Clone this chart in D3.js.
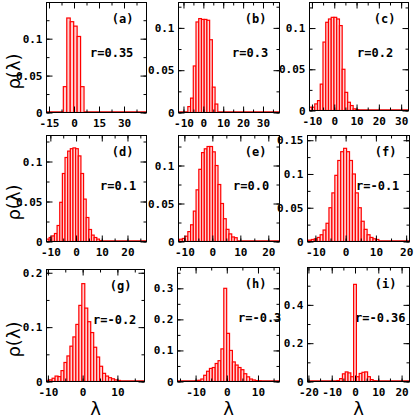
<!DOCTYPE html>
<meta charset="utf-8">
<style>
    body { margin: 0; background: #fff; }
    svg text { font-family: 'DejaVu Sans Mono', monospace; font-weight: bold; fill: #000; }
    .axis .domain { display: none; }
    .axis line { stroke: #000; }
    .title { font-family: 'DejaVu Sans', sans-serif !important; font-weight: normal !important; }
</style>
<svg width="415" height="420"></svg>
<script src="https://d3js.org/d3.v7.min.js"></script>
<script>
    // panel names and correlation labels
    var panelNames = ["(a)", "(b)", "(c)", "(d)", "(e)", "(f)", "(g)", "(h)", "(i)"];
    var rLabels = ["r=0.35", "r=0.3", "r=0.2", "r=0.1", "r=0.0", "r=-0.1", "r=-0.2", "r=-0.3", "r=-0.36"];

    // histogram bins: first bin edge, bin width, heights rho(lambda)
    var binStart = [-6.4, -7.8, -11.2, -11.5, -11.7, -12.3, -10.5, -10.16, -7.8];
    var binWidth = [2.07, 1.37, 1.23, 1.03, 0.98, 0.97, 0.855, 0.92, 1.2];
    var rhoA = [0.035, 0.128, 0.123, 0.117, 0.103, 0.035];
    var rhoB = [0.007, 0.017, 0.055, 0.107, 0.111, 0.110, 0.110, 0.109, 0.086, 0.030, 0.010];
    var rhoC = [0.004, 0.004, 0.008, 0.012, 0.032, 0.083, 0.107, 0.111, 0.113, 0.113, 0.111, 0.103, 0.050, 0.022, 0.010, 0.006, 0.002, 0.001];
    var rhoD = [0.003, 0.005, 0.007, 0.010, 0.020, 0.049, 0.085, 0.105, 0.113, 0.116, 0.117, 0.116, 0.107, 0.085, 0.053, 0.030, 0.015, 0.008, 0.005, 0.003, 0.001];
    var rhoE = [0.003, 0.004, 0.007, 0.013, 0.022, 0.040, 0.068, 0.095, 0.117, 0.122, 0.125, 0.125, 0.118, 0.100, 0.075, 0.050, 0.030, 0.016, 0.010, 0.006, 0.005];
    var rhoF = [0.002, 0.003, 0.004, 0.006, 0.010, 0.017, 0.027, 0.050, 0.072, 0.098, 0.120, 0.133, 0.138, 0.133, 0.120, 0.100, 0.072, 0.050, 0.030, 0.018, 0.010, 0.006, 0.004, 0.003];
    var rhoG = [0.002, 0.003, 0.006, 0.010, 0.009, 0.020, 0.035, 0.047, 0.065, 0.082, 0.105, 0.140, 0.180, 0.135, 0.110, 0.090, 0.063, 0.045, 0.028, 0.015, 0.010, 0.007, 0.005, 0.003, 0.002];
    var rhoH = [0.002, 0.004, 0.008, 0.020, 0.033, 0.042, 0.045, 0.058, 0.067, 0.105, 0.300, 0.155, 0.100, 0.063, 0.053, 0.045, 0.038, 0.025, 0.015, 0.008, 0.005, 0.003, 0.002];
    var rhoI = [0.005, 0.015, 0.040, 0.050, 0.045, 0.025, 0.507, 0.025, 0.042, 0.048, 0.050, 0.025, 0.010, 0.003];
    var rhoAll = [rhoA, rhoB, rhoC, rhoD, rhoE, rhoF, rhoG, rhoH, rhoI];

    // axis ranges and tick steps
    var xDomains = [[-16.5, 43.5], [-12.5, 38.3], [-11.1, 33.3], [-11.5, 27.4], [-12.1, 24], [-12.6, 21.1], [-10.4, 17.8], [-15.8, 16.9], [-20.4, 23.4]];
    var yMax = [0.149, 0.130, 0.131, 0.1325, 0.1395, 0.157, 0.206, 0.367, 0.595];
    var xTickStep = [15, 10, 10, 10, 10, 10, 10, 10, 10];
    var yTickStep = [0.05, 0.05, 0.05, 0.05, 0.05, 0.05, 0.1, 0.1, 0.2];

    // frame of each panel: left, right, top, bottom
    var frames = [
        [46.5, 146.5, 2.5, 112.5], [178.5, 279.5, 2.5, 112.5], [309.5, 408.5, 2.5, 110.5],
        [46.5, 146.5, 135.5, 241.5], [178.5, 279.5, 135.5, 241.5], [307.5, 409.5, 135.5, 241.5],
        [46.5, 144.5, 269.5, 381.5], [177.5, 279.5, 267.5, 381.5], [307.5, 409.5, 267.5, 381.5]
    ];
    // left edge of the r label
    var rLabelX = [90, 232, 357, 100, 233, 356, 93, 238, 355];

    var svg = d3.select("svg");

    function stepTicks(dom, step) {
        var t = [], v = Math.ceil(dom[0] / step - 1e-9) * step;
        for (; v <= dom[1] + 1e-9; v += step) t.push(+v.toFixed(4));
        return t;
    }
    var fmt = function(d) { return String(+d.toFixed(3)); };

    frames.forEach(function(f, p) {
        var x = d3.scaleLinear().domain(xDomains[p]).range([f[0], f[1]]);
        var y = d3.scaleLinear().domain([0, yMax[p]]).range([f[3], f[2]]);
        var g = svg.append("g");

        g.append("clipPath").attr("id", "clip" + p)
            .append("rect")
            .attr("x", f[0]).attr("y", f[2])
            .attr("width", f[1] - f[0]).attr("height", f[3] - f[2]);

        var bins = rhoAll[p].map(function(h, i) {
            return {x0: binStart[p] + i * binWidth[p], x1: binStart[p] + (i + 1) * binWidth[p], h: h};
        });

        var bars = g.append("g").attr("clip-path", "url(#clip" + p + ")");

        // red baseline of the empty bins
        bars.append("line")
            .attr("x1", x(xDomains[p][0])).attr("x2", x(xDomains[p][1]))
            .attr("y1", y(0) - 0.5).attr("y2", y(0) - 0.5)
            .attr("stroke", "#e00000").attr("stroke-width", 1.5);

        bars.selectAll("rect")
            .data(bins)
            .enter().append("rect")
            .attr("x", function(d) { return x(d.x0); })
            .attr("y", function(d) { return y(d.h); })
            .attr("width", function(d) { return x(d.x1) - x(d.x0); })
            .attr("height", function(d) { return y(0) - y(d.h); })
            .attr("fill", "#ffd2d2")
            .attr("stroke", "#ff0000")
            .attr("stroke-width", 1.2);

        var xMajor = stepTicks(xDomains[p], xTickStep[p]);
        var xMinor = stepTicks(xDomains[p], xTickStep[p] / 2);
        var yMajor = stepTicks([0, yMax[p]], yTickStep[p]);
        var yMinor = stepTicks([0, yMax[p]], yTickStep[p] / 2);

        // bottom axis with labels
        g.append("g").attr("class", "axis")
            .attr("transform", "translate(0," + f[3] + ")")
            .call(d3.axisBottom(x).tickValues(xMajor).tickSize(-6).tickSizeOuter(0).tickPadding(7).tickFormat(fmt))
            .selectAll("text").attr("font-size", 11).attr("font-family", null);
        g.append("g").attr("class", "axis")
            .attr("transform", "translate(0," + f[3] + ")")
            .call(d3.axisBottom(x).tickValues(xMinor).tickSize(-3).tickSizeOuter(0).tickFormat(""));
        // top mirror
        g.append("g").attr("class", "axis")
            .attr("transform", "translate(0," + f[2] + ")")
            .call(d3.axisTop(x).tickValues(xMajor).tickSize(-6).tickSizeOuter(0).tickFormat(""));
        g.append("g").attr("class", "axis")
            .attr("transform", "translate(0," + f[2] + ")")
            .call(d3.axisTop(x).tickValues(xMinor).tickSize(-3).tickSizeOuter(0).tickFormat(""));
        // left axis with labels
        g.append("g").attr("class", "axis")
            .attr("transform", "translate(" + f[0] + ",0)")
            .call(d3.axisLeft(y).tickValues(yMajor).tickSize(-6).tickSizeOuter(0).tickPadding(4).tickFormat(fmt))
            .selectAll("text").attr("font-size", 11).attr("font-family", null);
        g.append("g").attr("class", "axis")
            .attr("transform", "translate(" + f[0] + ",0)")
            .call(d3.axisLeft(y).tickValues(yMinor).tickSize(-3).tickSizeOuter(0).tickFormat(""));
        // right mirror
        g.append("g").attr("class", "axis")
            .attr("transform", "translate(" + f[1] + ",0)")
            .call(d3.axisRight(y).tickValues(yMajor).tickSize(-6).tickSizeOuter(0).tickFormat(""));
        g.append("g").attr("class", "axis")
            .attr("transform", "translate(" + f[1] + ",0)")
            .call(d3.axisRight(y).tickValues(yMinor).tickSize(-3).tickSizeOuter(0).tickFormat(""));

        // frame
        g.append("rect")
            .attr("x", f[0]).attr("y", f[2])
            .attr("width", f[1] - f[0]).attr("height", f[3] - f[2])
            .attr("fill", "none").attr("stroke", "#000").attr("stroke-width", 1);

        g.append("text")
            .attr("x", f[1] - 13).attr("y", f[2] + 20)
            .attr("text-anchor", "end")
            .attr("font-size", 12)
            .text(panelNames[p]);

        g.append("text")
            .attr("x", rLabelX[p]).attr("y", f[2] + 54)
            .attr("font-size", 12)
            .text(rLabels[p]);
    });

    // row titles rho(lambda)
    [0, 3, 6].forEach(function(p) {
        var f = frames[p];
        svg.append("text")
            .attr("class", "title")
            .attr("transform", "translate(14," + ((f[2] + f[3]) / 2 + 14) + ") rotate(-90)")
            .attr("text-anchor", "middle")
            .attr("dy", "0.35em")
            .attr("font-size", 18)
            .text("ρ(λ)");
    });

    // column titles lambda
    [6, 7, 8].forEach(function(p) {
        var f = frames[p];
        svg.append("text")
            .attr("class", "title")
            .attr("x", (f[0] + f[1]) / 2)
            .attr("y", 415)
            .attr("text-anchor", "middle")
            .attr("font-size", 18)
            .text("λ");
    });
</script>
